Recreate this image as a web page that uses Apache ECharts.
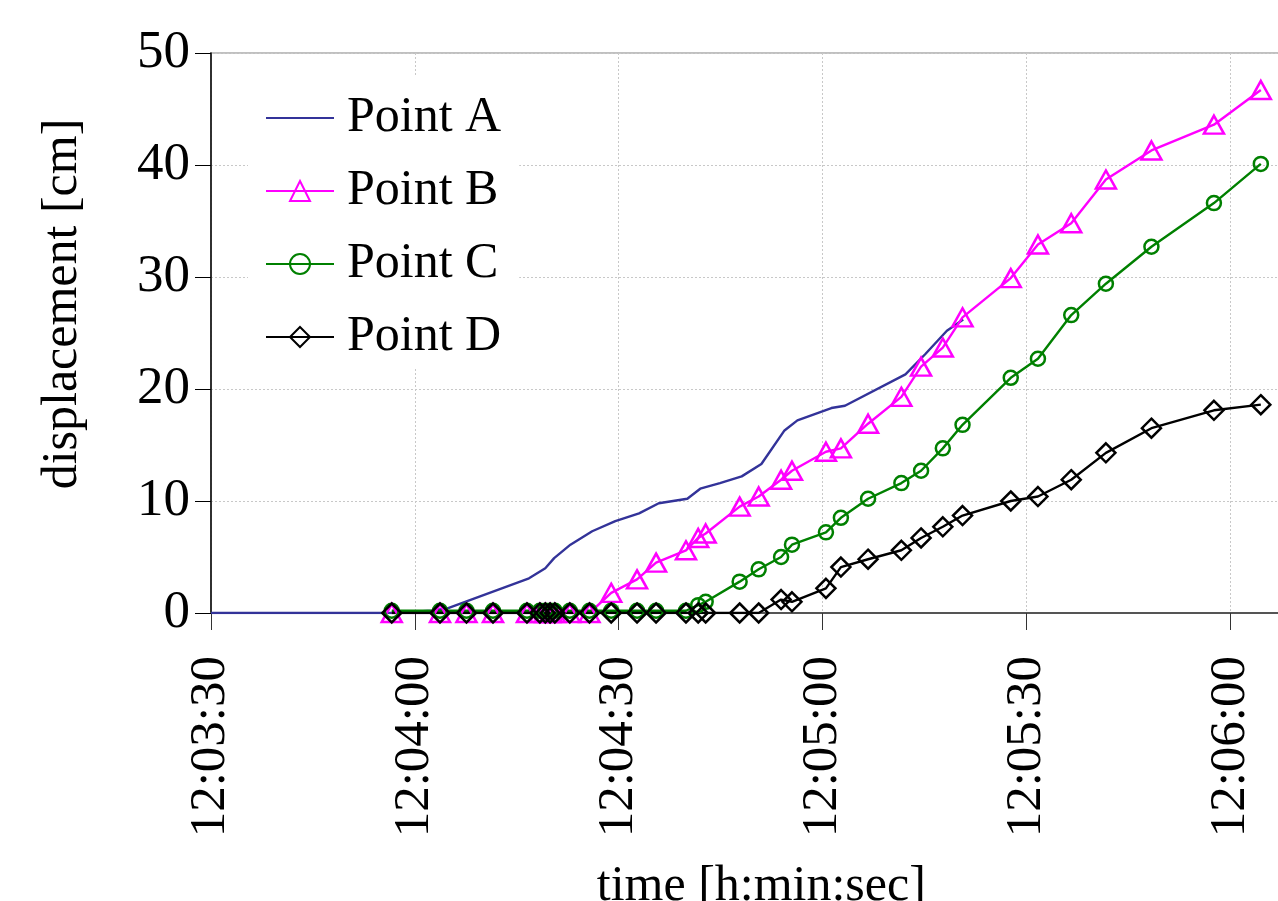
<!DOCTYPE html>
<html><head><meta charset="utf-8">
<script src="https://cdn.jsdelivr.net/npm/echarts@6/dist/echarts.min.js"></script>
<style>html,body{margin:0;padding:0;background:#fff}#c{width:1278px;height:901px}</style>
</head><body><div id="c"></div>
<script>
const seriesNames = ['Point A', 'Point B', 'Point C', 'Point D'];
const timesA = ['12:03:30','12:03:56.6','12:04:02.5','12:04:04.7','12:04:16.8','12:04:19.2','12:04:20.5','12:04:22.9','12:04:26.1','12:04:29.5','12:04:33.0','12:04:35.9','12:04:40.1','12:04:42.0','12:04:44.9','12:04:48.1','12:04:51.0','12:04:54.4','12:04:56.3','12:05:01.3','12:05:03.3','12:05:12.2','12:05:15.1','12:05:18.3','12:05:20.7'];
const valuesA = [0,0,0.2,0.4,3.1,4.0,4.9,6.1,7.3,8.2,8.9,9.8,10.2,11.1,11.6,12.2,13.3,16.3,17.2,18.3,18.5,21.3,23.1,25.2,26.2];
const timesBCD = ['12:03:56.6','12:04:03.7','12:04:07.6','12:04:11.5','12:04:16.5','12:04:18.4','12:04:19.2','12:04:19.9','12:04:20.6','12:04:22.8','12:04:25.7','12:04:28.9','12:04:32.7','12:04:35.5','12:04:39.9','12:04:41.7','12:04:42.8','12:04:47.8','12:04:50.6','12:04:53.9','12:04:55.5','12:05:00.5','12:05:02.7','12:05:06.7','12:05:11.6','12:05:14.5','12:05:17.7','12:05:20.6','12:05:27.7','12:05:31.7','12:05:36.6','12:05:41.7','12:05:48.4','12:05:57.6','12:06:04.5'];
const valuesB = [0,0,0,0,0,0,0,0,0,0,0,1.8,3.0,4.5,5.6,6.7,7.1,9.5,10.4,11.9,12.7,14.4,14.7,16.9,19.3,22.0,23.7,26.4,29.9,32.9,34.8,38.7,41.3,43.6,46.7];
const valuesC = [0.2,0.2,0.2,0.2,0.2,0.2,0.2,0.2,0.2,0.2,0.2,0.2,0.2,0.2,0.2,0.7,1.0,2.8,3.9,5.0,6.1,7.2,8.5,10.2,11.6,12.7,14.7,16.8,21.0,22.7,26.6,29.4,32.7,36.6,40.1];
const valuesD = [0,0,0,0,0,0,0,0,0,0,0,0,0,0,0,0,0,0,0,1.2,1.0,2.2,4.1,4.8,5.6,6.7,7.7,8.7,10.0,10.4,11.9,14.3,16.5,18.1,18.6];
const xTickLabels = ['12:03:30','12:04:00','12:04:30','12:05:00','12:05:30','12:06:00'];
const yTickLabels = [0, 10, 20, 30, 40, 50];

function toSec(s) { const p = s.split(':'); return (+p[0]) * 3600 + (+p[1]) * 60 + (+p[2]); }
function fmt(v) {
  const t = Math.round(v);
  const h = Math.floor(t / 3600), m = Math.floor((t % 3600) / 60), s = t % 60;
  return h + ':' + String(m).padStart(2, '0') + ':' + String(s).padStart(2, '0');
}
const xMin = toSec(xTickLabels[0]);
const xStep = toSec(xTickLabels[1]) - xMin;
const xMax = xMin + 158;
const FONT = "'Liberation Serif', 'Times New Roman', serif";
const dotted = { color: '#c8c8c8', width: 1, type: [2, 2] };

const chart = echarts.init(document.getElementById('c'), null, { renderer: 'canvas' });
chart.setOption({
  animation: false,
  backgroundColor: '#fff',
  grid: { left: 211, top: 53, width: 1073.6, height: 560, outerBoundsMode: 'none', containLabel: false, show: true, borderColor: '#c0c0c0', borderWidth: 2, backgroundColor: 'transparent' },
  legend: {
    data: seriesNames, orient: 'vertical', left: 248, top: 75,
    backgroundColor: '#fff', padding: [18, 18, 6, 17],
    itemWidth: 68, itemHeight: 25, itemGap: 23,
    textStyle: { fontSize: 50, lineHeight: 50, fontFamily: FONT, color: '#000', padding: [0, 0, 0, 8] }
  },
  xAxis: {
    type: 'value', min: xMin, max: xMax, interval: xStep,
    axisLine: { show: true, lineStyle: { color: '#555', width: 2 } },
    axisTick: { show: true, length: 17, lineStyle: { color: '#333', width: 1 } },
    axisLabel: {
      rotate: 90, margin: 43, fontSize: 51, fontFamily: FONT, color: '#000',
      showMaxLabel: false,
      formatter: v => { const s = fmt(v); return xTickLabels.includes(s) ? s : ''; }
    },
    splitLine: { show: true, lineStyle: dotted },
    name: 'time [h:min:sec]', nameLocation: 'middle', nameGap: 249,
    nameTextStyle: { fontSize: 50, fontFamily: FONT, color: '#000', padding: [0, 0, 0, 27] }
  },
  yAxis: {
    type: 'value', min: yTickLabels[0], max: yTickLabels[yTickLabels.length - 1], interval: yTickLabels[1] - yTickLabels[0],
    axisLine: { show: true, lineStyle: { color: '#000', width: 1.5 } },
    axisTick: { show: true, length: 16, lineStyle: { color: '#000', width: 1 } },
    axisLabel: { margin: 21, fontSize: 53, fontFamily: FONT, color: '#000' },
    splitLine: { show: true, lineStyle: dotted },
    name: 'displacement [cm]', nameLocation: 'middle', nameGap: 123, nameRotate: 90,
    nameTextStyle: { fontSize: 50, fontFamily: FONT, color: '#000', padding: [0, 0, 0, 58] }
  },
  series: [
    {
      name: seriesNames[0], type: 'line', symbol: 'none',
      data: timesA.map((t, i) => [toSec(t), valuesA[i]]),
      lineStyle: { color: '#333399', width: 2.4 }, itemStyle: { color: 'rgba(0,0,0,0)', borderWidth: 0 }
    },
    {
      name: seriesNames[1], type: 'line', symbol: 'triangle', symbolSize: [20, 18], showAllSymbol: true,
      data: timesBCD.map((t, i) => [toSec(t), valuesB[i]]),
      lineStyle: { color: '#ff00ff', width: 2.4 },
      itemStyle: { color: 'rgba(255,255,255,0)', borderColor: '#ff00ff', borderWidth: 2.5 }
    },
    {
      name: seriesNames[2], type: 'line', symbol: 'circle', symbolSize: 14, showAllSymbol: true,
      data: timesBCD.map((t, i) => [toSec(t), valuesC[i]]),
      lineStyle: { color: '#008000', width: 2.4 },
      itemStyle: { color: 'rgba(255,255,255,0)', borderColor: '#008000', borderWidth: 2.5 }
    },
    {
      name: seriesNames[3], type: 'line', symbol: 'diamond', symbolSize: 19, showAllSymbol: true,
      data: timesBCD.map((t, i) => [toSec(t), valuesD[i]]),
      lineStyle: { color: '#000', width: 2.4 },
      itemStyle: { color: 'rgba(255,255,255,0)', borderColor: '#000', borderWidth: 2.5 }
    }
  ]
});
</script></body></html>
